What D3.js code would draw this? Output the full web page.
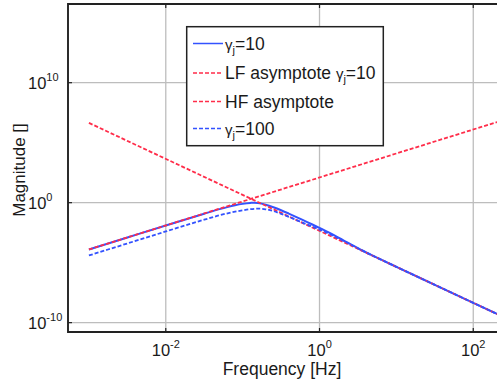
<!DOCTYPE html>
<html>
<head>
<meta charset="utf-8">
<script src="https://cdn.jsdelivr.net/npm/d3@7"></script>
<style>
  html, body { margin: 0; padding: 0; background: #fff; }
  svg { display: block; font-family: "Liberation Sans", Arial, Helvetica, sans-serif; }
</style>
</head>
<body>
<svg id="chart" width="497" height="385"></svg>
<script>
// ---------- data (exponents of 10) ----------
const xTickExp = [-2, 0, 2];
const yTickExp = [-10, 0, 10];

// gamma_j = 10 (solid blue)
const g10FreqExp = [-3, -2.5, -2, -1.5, -1.3, -1.2, -1.1, -1.0, -0.9, -0.85, -0.8, -0.7, -0.6, -0.5, -0.4, -0.3, -0.2, -0.1, 0, 0.1, 0.2, 0.3, 0.5, 0.7, 1.0, 1.5, 2.0, 2.4];
const g10MagExp  = [-3.9, -2.9, -1.9, -0.92, -0.54, -0.37, -0.22, -0.1, -0.02, 0.0, -0.03, -0.17, -0.38, -0.63, -0.91, -1.2, -1.5, -1.8, -2.1, -2.42, -2.75, -3.1, -3.8, -4.44, -5.35, -6.85, -8.35, -9.55];

// gamma_j = 100 (dashed blue)
const g100FreqExp = [-3, -2.5, -2, -1.5, -1.3, -1.15, -1.0, -0.9, -0.8, -0.7, -0.6, -0.5, -0.4, -0.3, -0.2, -0.1, 0, 0.1, 0.2, 0.3, 0.5, 0.7, 1.0, 1.5, 2.0, 2.4];
const g100MagExp  = [-4.4, -3.4, -2.4, -1.42, -1.05, -0.82, -0.64, -0.54, -0.5, -0.55, -0.7, -0.93, -1.18, -1.45, -1.72, -1.98, -2.24, -2.52, -2.83, -3.15, -3.8, -4.44, -5.35, -6.85, -8.35, -9.55];

// asymptotes (straight lines in log-log)
const lfFreqExp = [-3, 2.4];
const lfMagExp  = [-3.9, 6.9];
const hfFreqExp = [-3, 2.4];
const hfMagExp  = [6.65, -9.55];

const legendLabels = ["γj=10", "LF asymptote γj=10", "HF asymptote", "γj=100"];

// ---------- layout ----------
const svg = d3.select("#chart");
const L = 68, T = 4, B = 332, R = 504;
const x = d3.scaleLog().domain([Math.pow(10, -3.272), Math.pow(10, 2.4)]).range([L, R]);
const y = d3.scaleLog().domain([Math.pow(10, -10.78), Math.pow(10, 16.56)]).range([B, T]);

const BLUE = "#3352ff", RED = "#ff2d4a";

svg.append("defs").append("clipPath").attr("id", "clip")
  .append("rect").attr("x", L).attr("y", T).attr("width", R - L).attr("height", B - T);

// grid
const grid = svg.append("g").attr("stroke", "#bdbdbd").attr("stroke-width", 1.3);
xTickExp.forEach(e => {
  const px = x(Math.pow(10, e));
  grid.append("line").attr("x1", px).attr("x2", px).attr("y1", T).attr("y2", B);
});
yTickExp.forEach(e => {
  const py = y(Math.pow(10, e));
  grid.append("line").attr("x1", L).attr("x2", R).attr("y1", py).attr("y2", py);
});

// ticks (inward)
const ticks = svg.append("g").attr("stroke", "#222").attr("stroke-width", 1.2);
xTickExp.forEach(e => {
  const px = x(Math.pow(10, e));
  ticks.append("line").attr("x1", px).attr("x2", px).attr("y1", B).attr("y2", B - 4);
  ticks.append("line").attr("x1", px).attr("x2", px).attr("y1", T).attr("y2", T + 4);
});
yTickExp.forEach(e => {
  const py = y(Math.pow(10, e));
  ticks.append("line").attr("x1", L).attr("x2", L + 4).attr("y1", py).attr("y2", py);
});

// lines
const line = d3.line()
  .x(d => x(Math.pow(10, d[0])))
  .y(d => y(Math.pow(10, d[1])))
  .curve(d3.curveMonotoneX);
const zip = (a, b) => a.map((v, i) => [v, b[i]]);

const plot = svg.append("g").attr("clip-path", "url(#clip)").attr("fill", "none");
plot.append("path").attr("d", line(zip(g10FreqExp, g10MagExp)))
  .attr("stroke", BLUE).attr("stroke-width", 2);
plot.append("path").attr("d", line(zip(lfFreqExp, lfMagExp)))
  .attr("stroke", RED).attr("stroke-width", 1.8).attr("stroke-dasharray", "4,2");
plot.append("path").attr("d", line(zip(hfFreqExp, hfMagExp)))
  .attr("stroke", RED).attr("stroke-width", 1.8).attr("stroke-dasharray", "4,2");
plot.append("path").attr("d", line(zip(g100FreqExp, g100MagExp)))
  .attr("stroke", BLUE).attr("stroke-width", 1.8).attr("stroke-dasharray", "4,2");

// frame
svg.append("path")
  .attr("d", `M${R},${T}H${L}V${B}H${R}`)
  .attr("fill", "none").attr("stroke", "#222").attr("stroke-width", 1.9);

// tick labels
const txt = svg.append("g").attr("fill", "#1a1a1a");
xTickExp.forEach(e => {
  const px = x(Math.pow(10, e));
  const t = txt.append("text").attr("x", px).attr("y", 356).attr("text-anchor", "middle").attr("font-size", 16.5);
  t.append("tspan").text("10");
  t.append("tspan").attr("dy", -8).attr("font-size", 11).text(e === 0 ? "0" : String(e));
});
yTickExp.forEach(e => {
  const py = y(Math.pow(10, e));
  const t = txt.append("text").attr("x", 28).attr("y", py + 6.5).attr("font-size", 16.5);
  t.append("tspan").text("10");
  t.append("tspan").attr("dy", -8).attr("font-size", 11).text(String(e));
});

// axis titles
txt.append("text").attr("x", 282).attr("y", 375).attr("text-anchor", "middle")
  .attr("font-size", 17.5).text("Frequency [Hz]");
txt.append("text").attr("transform", "translate(24.5,170) rotate(-90)")
  .attr("text-anchor", "middle").attr("font-size", 17).text("Magnitude []");

// legend
const lg = svg.append("g");
lg.append("rect").attr("x", 186.7).attr("y", 26.7).attr("width", 196.6).attr("height", 119)
  .attr("fill", "#fff").attr("stroke", "#222").attr("stroke-width", 1.5);
const rowY = [43.5, 73, 101.5, 128.5];
const rowStyle = [
  { c: BLUE, d: null }, { c: RED, d: "4,2" }, { c: RED, d: "4,2" }, { c: BLUE, d: "4,2" }
];
legendLabels.forEach((lab, i) => {
  const yy = rowY[i];
  lg.append("line").attr("x1", 193).attr("x2", 223).attr("y1", yy).attr("y2", yy)
    .attr("stroke", rowStyle[i].c).attr("stroke-width", 1.5)
    .attr("stroke-dasharray", rowStyle[i].d);
  const t = lg.append("text").attr("x", 225).attr("y", yy + 6).attr("font-size", 17.5).attr("fill", "#1a1a1a");
  const parts = lab.split("γj");
  parts.forEach((p, k) => {
    if (k > 0) {
      t.append("tspan").attr("font-size", 15).text("γ");
      t.append("tspan").attr("font-size", 11).attr("dy", 4).text("j");
      t.append("tspan").attr("dy", -4).text(p);
    } else if (p.length) {
      t.append("tspan").text(p);
    }
  });
});
</script>
</body>
</html>
